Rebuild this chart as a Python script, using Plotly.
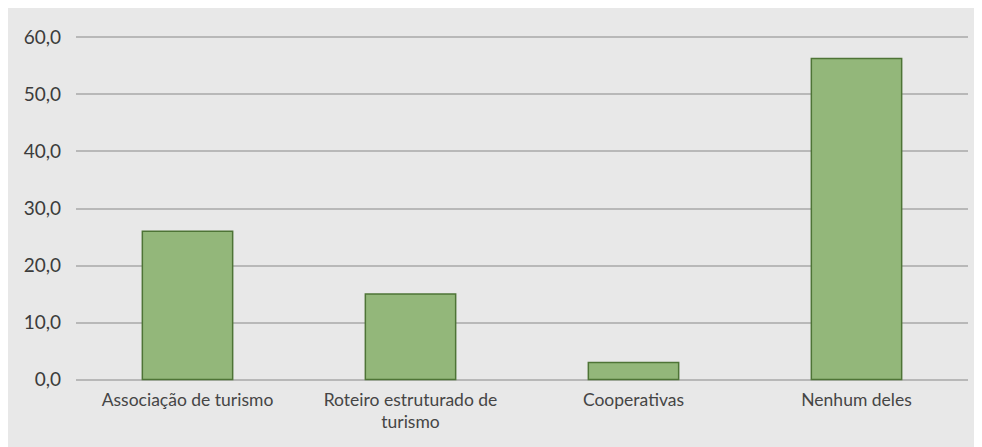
import plotly.graph_objects as go

categories = ["Associação de turismo", "Roteiro estruturado de<br>turismo", "Cooperativas", "Nenhum deles"]
values = [26.0, 15.0, 3.0, 56.3]
tick_vals = [0, 10, 20, 30, 40, 50, 60]
tick_text = ["0,0", "10,0", "20,0", "30,0", "40,0", "50,0", "60,0"]

fig = go.Figure(go.Bar(
    x=categories, y=values,
    marker=dict(color="#93b77a", line=dict(color="#4e7436", width=1.5)),
    width=0.405,
))

# page body has an 8px margin, so the figure is sized to fit the window
W, H = 974, 439
pad = 0.6
span = 343.0  # px between 0 and 60
ppu = span / 60.0
ml, mr = 68, 14
mt = 29 - pad * ppu
mb = H - (372 + pad * ppu)

fig.update_layout(
    width=W, height=H,
    margin=dict(l=ml, r=mr, t=mt, b=mb),
    paper_bgcolor="#e8e8e8",
    plot_bgcolor="rgba(0,0,0,0)",
    font=dict(family="Lato, Open Sans, sans-serif", color="#404040"),
    showlegend=False,
)
fig.update_yaxes(
    range=[-pad, 60 + pad], tickvals=tick_vals, ticktext=tick_text,
    showgrid=True, gridcolor="#b8b8b8", gridwidth=2,
    zeroline=False, showline=False, ticks="",
    tickfont=dict(size=19, color="#3c3c3c"), ticklabelstandoff=14,
)
fig.update_xaxes(
    showgrid=False, showline=False, ticks="",
    tickfont=dict(size=17.5, color="#454545"), ticklabelstandoff=4,
)
fig.write_html("out.html")
